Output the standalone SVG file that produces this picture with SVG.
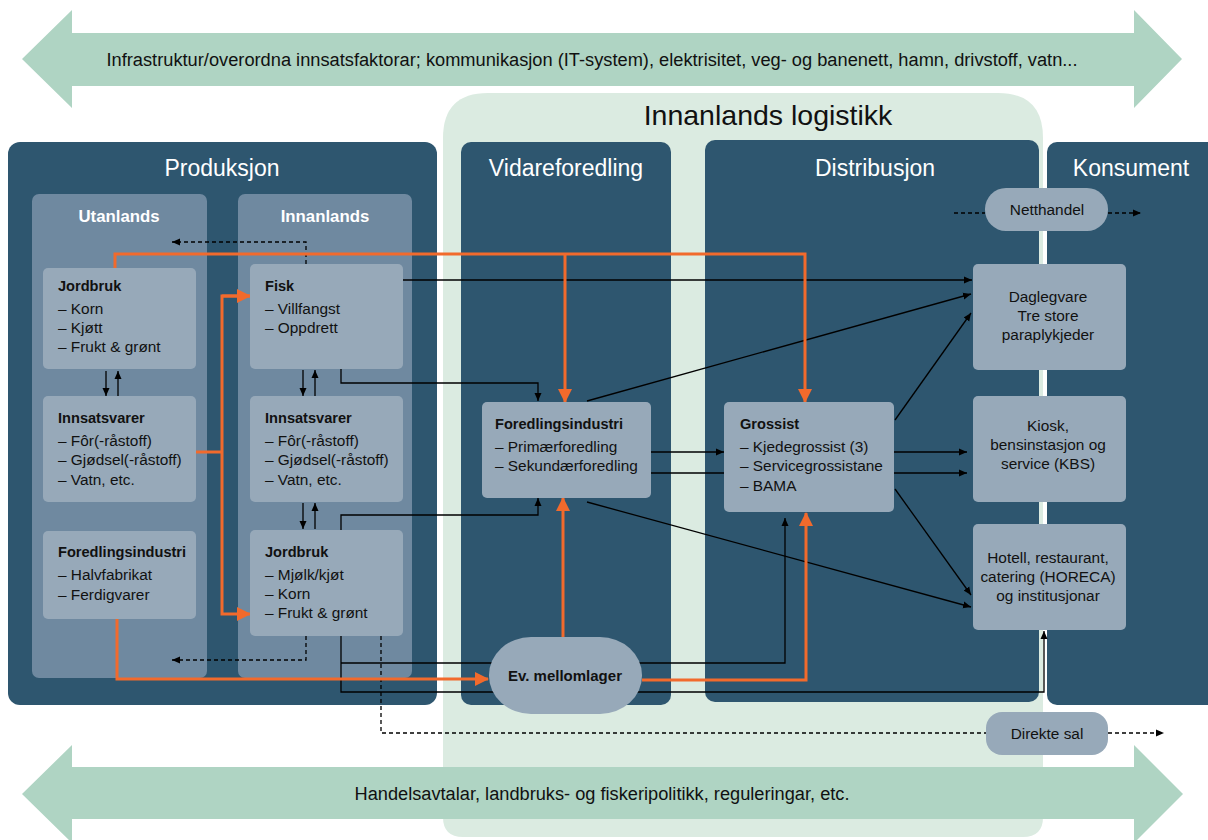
<svg xmlns="http://www.w3.org/2000/svg" width="1208" height="840" viewBox="0 0 1208 840">
<defs>
<style>
text{font-family:"Liberation Sans",Arial,sans-serif;}
.band{fill:#afd4c3;}
.logi{fill:#dbebe1;}
.panel{fill:#2e566f;}
.sub{fill:#6f89a0;}
.box{fill:#97a9b9;}
.hdr{fill:#ffffff;font-size:23px;text-anchor:middle;}
.subhdr{fill:#ffffff;font-size:16.8px;font-weight:bold;text-anchor:middle;}
.t{fill:#111111;font-size:14.6px;font-weight:bold;}
.i{fill:#111111;font-size:15.4px;}
.c{fill:#111111;font-size:15.4px;text-anchor:middle;}
.bk{fill:none;stroke:#000;stroke-width:1.3;}
.bka{fill:none;stroke:#000;stroke-width:1.3;marker-end:url(#ab);}
.ds{fill:none;stroke:#000;stroke-width:1.3;stroke-dasharray:4 3;}
.dsa{fill:none;stroke:#000;stroke-width:1.3;stroke-dasharray:4 3;marker-end:url(#ab);}
.or{fill:none;stroke:#f26a2c;stroke-width:3;}
.ora{fill:none;stroke:#f26a2c;stroke-width:3;marker-end:url(#ao);}
</style>
<marker id="ab" viewBox="0 0 8 8" refX="8" refY="4" markerWidth="8" markerHeight="8" markerUnits="userSpaceOnUse" orient="auto">
<path d="M0,0.5 L8,4 L0,7.5 z" fill="#000"/>
</marker>
<marker id="ao" viewBox="0 0 14 14" refX="13" refY="7" markerWidth="14" markerHeight="14" markerUnits="userSpaceOnUse" orient="auto">
<path d="M0,0 L14,7 L0,14 z" fill="#f26a2c"/>
</marker>
</defs>
<rect width="1208" height="840" fill="#ffffff"/>

<g id="logistikk-area">
<path class="logi" d="M488,93 H998 Q1043,93 1043,138 V817 Q1043,837 1023,837 H463 Q443,837 443,817 V138 Q443,93 488,93 Z"/>
<text x="768" y="125" font-size="28.5" fill="#111" text-anchor="middle">Innanlands logistikk</text>
</g>

<g id="infra-band">
<polygon class="band" points="22,59 72,10 72,33 1134,33 1134,10 1182,59 1134,108 1134,86 72,86 72,108"/>
<text x="592" y="66" font-size="18" fill="#111" text-anchor="middle" textLength="971" lengthAdjust="spacingAndGlyphs">Infrastruktur/overordna innsatsfaktorar; kommunikasjon (IT-system), elektrisitet, veg- og banenett, hamn, drivstoff, vatn...</text>
</g>

<g id="handel-band">
<polygon class="band" points="22,794 72,745 72,767 1134,767 1134,745 1183,794 1134,843 1134,819 72,819 72,843"/>
<text x="602" y="800" font-size="18" fill="#111" text-anchor="middle" textLength="495" lengthAdjust="spacingAndGlyphs">Handelsavtalar, landbruks- og fiskeripolitikk, reguleringar, etc.</text>
</g>

<g id="produksjon">
<rect class="panel" x="8" y="142" width="429" height="563" rx="12"/>
<text class="hdr" x="222" y="176">Produksjon</text>
</g>
<g id="vidareforedling">
<rect class="panel" x="461" y="142" width="210" height="563" rx="10"/>
<text class="hdr" x="566" y="176">Vidareforedling</text>
</g>
<g id="distribusjon">
<rect class="panel" x="705" y="140" width="334" height="562" rx="10"/>
<text class="hdr" x="875" y="176">Distribusjon</text>
</g>
<g id="konsument">
<rect class="panel" x="1047" y="142" width="175" height="563" rx="10"/>
<text class="hdr" x="1131" y="176">Konsument</text>
</g>

<g id="utanlands">
<rect class="sub" x="32" y="194" width="175" height="484" rx="7"/>
<text class="subhdr" x="119" y="222">Utanlands</text>
</g>
<g id="innanlands">
<rect class="sub" x="238" y="194" width="174" height="484" rx="7"/>
<text class="subhdr" x="325" y="222">Innanlands</text>
</g>

<g id="connectors">
<path class="dsa" d="M306,264 V242 H172"/>
<path class="dsa" d="M306,636 V660 H172"/>
<path class="ds" d="M381,636 V733 H986"/>
<path class="dsa" d="M1108,733 H1164"/>
<path class="ds" d="M954,213 H985"/>
<path class="dsa" d="M1108,213 H1141"/>
<path class="bka" d="M106,371 V396"/>
<path class="bka" d="M118,396 V371"/>
<path class="bka" d="M303,370 V396"/>
<path class="bka" d="M315,396 V370"/>
<path class="bka" d="M303,503 V529"/>
<path class="bka" d="M315,529 V503"/>
<path class="bka" d="M403,280 H972"/>
<path class="bka" d="M341,369 V383 H538 V401"/>
<path class="bka" d="M341,530 V515 H538 V498"/>
<path class="bka" d="M587,401 L971,294"/>
<path class="bka" d="M651,452 H724"/>
<path class="bka" d="M651,473 H967"/>
<path class="bka" d="M894,452 H967"/>
<path class="bka" d="M895,420 L971,313"/>
<path class="bka" d="M895,489 L971,595"/>
<path class="bka" d="M587,502 L971,607"/>
<path class="bka" d="M341,636 V692 H1044 V631"/>
<path class="bka" d="M341,663 H785 V518"/>
<path class="ora" d="M115,268 V254 H805 V402"/>
<path class="ora" d="M565,254 V402"/>
<path class="or" d="M196,452 H222"/>
<path class="ora" d="M250,296 H222 V614 H250"/>
<path class="ora" d="M222,296 H250"/>
<path class="ora" d="M117,619 V679 H488"/>
<path class="ora" d="M563,637 V498"/>
<path class="ora" d="M642,680 H806 V513"/>
</g>

<g id="jordbruk-utanlands">
<rect class="box" x="43" y="268" width="153" height="101" rx="5"/>
<text class="t" x="58" y="291">Jordbruk</text>
<text class="i" x="58" y="314">– Korn</text>
<text class="i" x="58" y="333">– Kjøtt</text>
<text class="i" x="58" y="352">– Frukt &amp; grønt</text>
</g>
<g id="innsatsvarer-utanlands">
<rect class="box" x="43" y="396" width="153" height="106" rx="5"/>
<text class="t" x="58" y="423">Innsatsvarer</text>
<text class="i" x="58" y="446">– Fôr(-råstoff)</text>
<text class="i" x="58" y="465">– Gjødsel(-råstoff)</text>
<text class="i" x="58" y="485">– Vatn, etc.</text>
</g>
<g id="foredling-utanlands">
<rect class="box" x="43" y="531" width="153" height="88" rx="5"/>
<text class="t" x="58" y="557">Foredlingsindustri</text>
<text class="i" x="58" y="580">– Halvfabrikat</text>
<text class="i" x="58" y="600">– Ferdigvarer</text>
</g>
<g id="fisk">
<rect class="box" x="250" y="264" width="153" height="105" rx="5"/>
<text class="t" x="265" y="291">Fisk</text>
<text class="i" x="265" y="314">– Villfangst</text>
<text class="i" x="265" y="333">– Oppdrett</text>
</g>
<g id="innsatsvarer-innanlands">
<rect class="box" x="250" y="396" width="153" height="106" rx="5"/>
<text class="t" x="265" y="423">Innsatsvarer</text>
<text class="i" x="265" y="446">– Fôr(-råstoff)</text>
<text class="i" x="265" y="465">– Gjødsel(-råstoff)</text>
<text class="i" x="265" y="485">– Vatn, etc.</text>
</g>
<g id="jordbruk-innanlands">
<rect class="box" x="250" y="530" width="153" height="106" rx="5"/>
<text class="t" x="265" y="557">Jordbruk</text>
<text class="i" x="265" y="580">– Mjølk/kjøt</text>
<text class="i" x="265" y="599">– Korn</text>
<text class="i" x="265" y="618">– Frukt &amp; grønt</text>
</g>
<g id="foredlingsindustri">
<rect class="box" x="482" y="402" width="169" height="96" rx="5"/>
<text class="t" x="495" y="429">Foredlingsindustri</text>
<text class="i" x="495" y="452">– Primærforedling</text>
<text class="i" x="495" y="471">– Sekundærforedling</text>
</g>
<g id="grossist">
<rect class="box" x="724" y="402" width="170" height="110" rx="5"/>
<text class="t" x="740" y="429">Grossist</text>
<text class="i" x="740" y="452">– Kjedegrossist (3)</text>
<text class="i" x="740" y="471">– Servicegrossistane</text>
<text class="i" x="740" y="491">– BAMA</text>
</g>
<g id="daglegvare">
<rect class="box" x="973" y="264" width="153" height="106" rx="5"/>
<text class="c" x="1048" y="302">Daglegvare</text>
<text class="c" x="1048" y="321">Tre store</text>
<text class="c" x="1048" y="340">paraplykjeder</text>
</g>
<g id="kbs">
<rect class="box" x="973" y="396" width="153" height="106" rx="5"/>
<text class="c" x="1048" y="431">Kiosk,</text>
<text class="c" x="1048" y="450">bensinstasjon og</text>
<text class="c" x="1048" y="469">service (KBS)</text>
</g>
<g id="horeca">
<rect class="box" x="973" y="524" width="153" height="106" rx="5"/>
<text class="c" x="1048" y="563">Hotell, restaurant,</text>
<text class="c" x="1048" y="582">catering (HORECA)</text>
<text class="c" x="1048" y="601">og institusjonar</text>
</g>
<g id="netthandel">
<rect class="box" x="985" y="188" width="123" height="43" rx="21"/>
<text class="c" x="1047" y="215">Netthandel</text>
</g>
<g id="direkte-sal">
<rect class="box" x="986" y="712" width="122" height="43" rx="16"/>
<text class="c" x="1047" y="739">Direkte sal</text>
</g>
<g id="mellomlager">
<rect class="box" x="489" y="637" width="153" height="77" rx="42" ry="38"/>
<text class="t" x="565" y="681" text-anchor="middle" style="font-size:15px">Ev. mellomlager</text>
</g>
</svg>
